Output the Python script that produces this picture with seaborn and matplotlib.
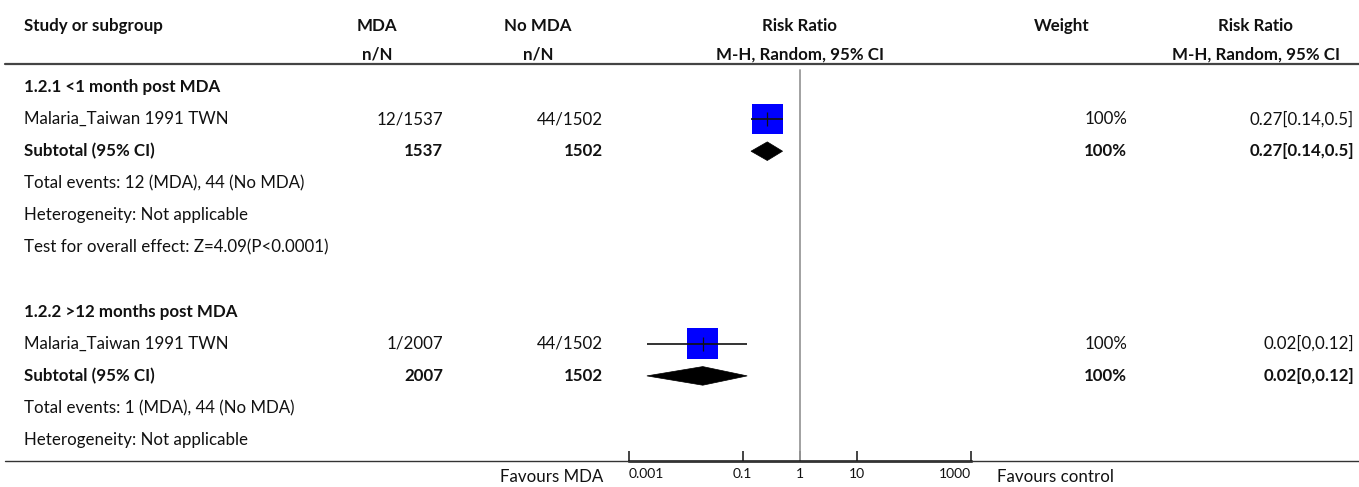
import matplotlib
matplotlib.use("Agg")
import matplotlib.pyplot as plt
import seaborn as sns
import numpy as np
import pandas as pd
from matplotlib import transforms
from matplotlib.patches import Polygon
from matplotlib.lines import Line2D

sns.set_theme(style="white")
plt.rcParams["font.family"] = ["Lato", "DejaVu Sans"]

# ---------------- data ----------------
row_labels = [
    "1.2.1 <1 month post MDA",
    "Malaria_Taiwan 1991 TWN",
    "Subtotal (95% CI)",
    "Total events: 12 (MDA), 44 (No MDA)",
    "Heterogeneity: Not applicable",
    "Test for overall effect: Z=4.09(P<0.0001)",
    "",
    "1.2.2 >12 months post MDA",
    "Malaria_Taiwan 1991 TWN",
    "Subtotal (95% CI)",
    "Total events: 1 (MDA), 44 (No MDA)",
    "Heterogeneity: Not applicable",
]
row_bold = [True, False, True, False, False, False, False, True, False, True, False, False]
mda_col = ["", "12/1537", "1537", "", "", "", "", "", "1/2007", "2007", "", ""]
nomda_col = ["", "44/1502", "1502", "", "", "", "", "", "44/1502", "1502", "", ""]
weight_col = ["", "100%", "100%", "", "", "", "", "", "100%", "100%", "", ""]
rr_col = ["", "0.27[0.14,0.5]", "0.27[0.14,0.5]", "", "", "", "", "",
          "0.02[0,0.12]", "0.02[0,0.12]", "", ""]

study_rows = [1, 8]
study_rr = [0.27, 0.02]
study_lo = [0.14, 0.0021]
study_hi = [0.5, 0.12]
study_weight = [100, 100]

pooled_rows = [2, 9]
pooled_rr = [0.27, 0.02]
pooled_lo = [0.14, 0.0021]
pooled_hi = [0.5, 0.12]

tick_values = [0.001, 0.1, 1, 10, 1000]
tick_labels = ["0.001", "0.1", "1", "10", "1000"]

headers1 = ["Study or subgroup", "MDA", "No MDA", "Risk Ratio", "Weight", "Risk Ratio"]
headers2 = ["", "n/N", "n/N", "M-H, Random, 95% CI", "", "M-H, Random, 95% CI"]

# ---------------- figure ----------------
W, H = 1359, 487
fig = plt.figure(figsize=(W / 100, H / 100), dpi=100)

def fx(px):
    return px / W

def fy(py):
    return 1 - py / H

ax_top, ax_bot = 66, 461
ax = fig.add_axes([fx(628.5), fy(ax_bot), fx(971) - fx(628.5), fy(ax_top) - fy(ax_bot)])
ax.set_xscale("log")
ax.set_xlim(0.001, 1000)
row0_px, row_step = 87, 32.1
ax.set_ylim((ax_bot - row0_px) / row_step, (ax_top - row0_px) / row_step)

for s in ["top", "left", "right"]:
    ax.spines[s].set_visible(False)
ax.spines["bottom"].set_color("#111111")
ax.spines["bottom"].set_linewidth(1.8)
ax.set_yticks([])
ax.set_xticks(tick_values)
ax.set_xticklabels(tick_labels)
ax.minorticks_off()
ax.tick_params(axis="x", bottom=True, direction="in", length=7, width=1.1, color="#111111",
               labelsize=10, pad=5, labelcolor="#111111")
labels = ax.get_xticklabels()
labels[0].set_horizontalalignment("left")
labels[-1].set_horizontalalignment("right")
ax.xaxis.label.set_visible(False)
ax.yaxis.label.set_visible(False)

# line of no effect
ax.axvline(1, color="#9a9a9a", lw=1.3, zorder=1, ymax=0.99)

# study squares
df_s = pd.DataFrame({"rr": study_rr, "row": study_rows, "w": study_weight})
sns.scatterplot(data=df_s, x="rr", y="row", marker="s", s=[w * 4.9 for w in study_weight],
                color="#0000ff", edgecolor="none", linewidth=0, ax=ax, zorder=3, legend=False)
ax.hlines(study_rows, study_lo, study_hi, color="#111111", lw=1.2, zorder=4)
ax.scatter(study_rr, study_rows, marker="|", s=110, color="#111111", linewidths=0.9, zorder=5)
ax.xaxis.label.set_visible(False)
ax.yaxis.label.set_visible(False)

# pooled diamonds
half = 0.29
for r, m, lo, hi in zip(pooled_rows, pooled_rr, pooled_lo, pooled_hi):
    ax.add_patch(Polygon([(lo, r), (m, r - half), (hi, r), (m, r + half)],
                         closed=True, facecolor="black", edgecolor="black", lw=0.5, zorder=3))

# text columns
tr = transforms.blended_transform_factory(fig.transFigure, ax.transData)
fs = 12.2
tc = "#111111"
for i, lab in enumerate(row_labels):
    wgt = "bold" if row_bold[i] else "normal"
    cols = [(24, "left", lab), (443, "right", mda_col[i]), (603, "right", nomda_col[i]),
            (1127, "right", weight_col[i]), (1354, "right", rr_col[i])]
    for x, ha, t in cols:
        if t:
            ax.text(fx(x), i, t, transform=tr, ha=ha, va="center", fontsize=fs, fontweight=wgt, color=tc)

# headers
hx = [(24, "left"), (377, "center"), (538, "center"), (800, "center"), (1062, "center"), (1256, "center")]
for (x, ha), h1, h2 in zip(hx, headers1, headers2):
    fig.text(fx(x), fy(26), h1, ha=ha, va="center", fontsize=fs, fontweight="bold", color=tc)
    if h2:
        fig.text(fx(x), fy(55), h2, ha=ha, va="center", fontsize=fs, fontweight="bold", color=tc)

# horizontal rules
fig.add_artist(Line2D([fx(5), fx(1359)], [fy(64), fy(64)], color="#444444", lw=1.6))
fig.add_artist(Line2D([fx(5), fx(1359)], [fy(461), fy(461)], color="#333333", lw=1.0))

# favours labels
fig.text(fx(603), fy(477), "Favours MDA", ha="right", va="center", fontsize=fs, color=tc)
fig.text(fx(997), fy(477), "Favours control", ha="left", va="center", fontsize=fs, color=tc)

fig.savefig("out.png", dpi=100)
